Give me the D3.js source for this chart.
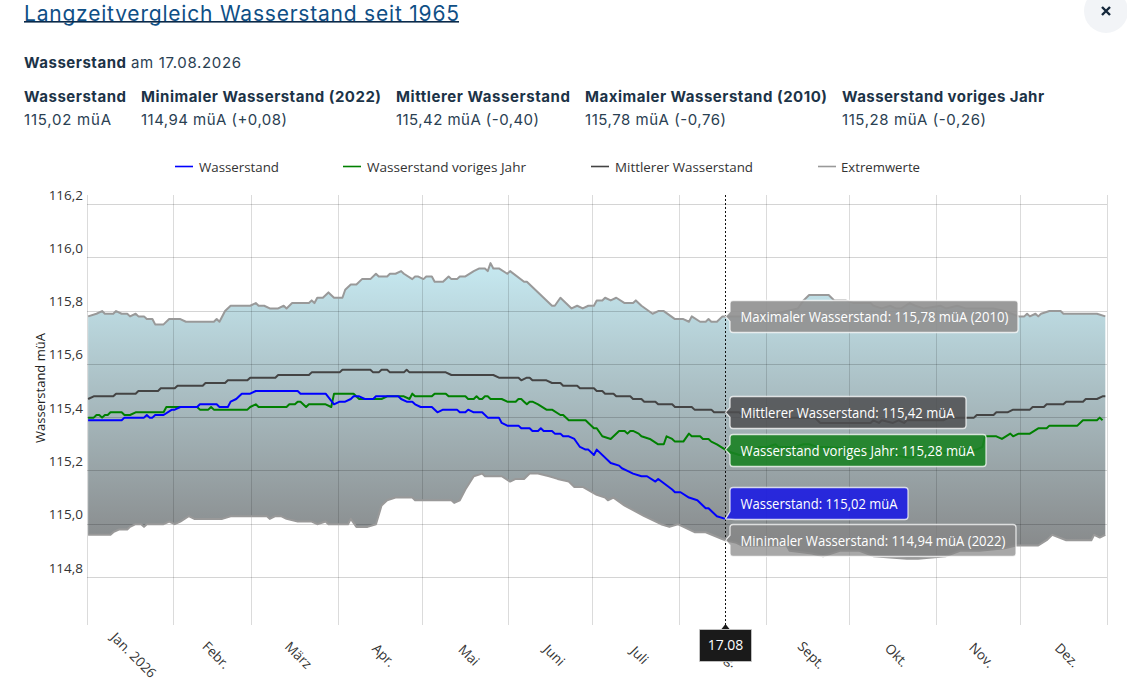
<!DOCTYPE html>
<html lang="de"><head><meta charset="utf-8"><title>Langzeitvergleich Wasserstand</title>
<script src="https://cdn.jsdelivr.net/npm/d3@7"></script>
<style>html,body{margin:0;padding:0;background:#fff;overflow:hidden}svg{display:block}</style>
</head><body><svg id="c" width="1127" height="694"></svg>
<script>
const monthNames=["Jan. 2026","Febr.","März","Apr.","Mai","Juni","Juli","Aug.","Sept.","Okt.","Nov.","Dez."];
const yTicks=[114.8,115.0,115.2,115.4,115.6,115.8,116.0,116.2];
const legendItems=["Wasserstand","Wasserstand voriges Jahr","Mittlerer Wasserstand","Extremwerte"];

const levelDays=[0,12,13,20,21,22,23,24,27,30,31,33,39,40,46,47,50,51,53,55,58,60,75,76,85,88,90,92,94,95,97,99,102,103,111,112,114,116,117,119,123,125,127,132,133,135,136,138,141,143,147,148,150,154,155,158,159,161,162,163,166,167,169,170,172,174,176,178,179,181,182,187,190,191,193,195,198,200,203,204,209,210,212,215,218,221,222,225,228];
const levelVals=[115.39,115.39,115.40,115.40,115.41,115.40,115.40,115.41,115.41,115.43,115.43,115.44,115.44,115.45,115.45,115.44,115.44,115.46,115.47,115.49,115.49,115.50,115.50,115.49,115.49,115.45,115.46,115.46,115.47,115.48,115.48,115.47,115.47,115.48,115.48,115.47,115.46,115.46,115.45,115.44,115.44,115.42,115.43,115.43,115.42,115.42,115.43,115.42,115.42,115.40,115.40,115.38,115.37,115.37,115.36,115.36,115.35,115.35,115.36,115.35,115.35,115.34,115.34,115.33,115.33,115.32,115.29,115.28,115.28,115.26,115.28,115.23,115.22,115.21,115.20,115.19,115.18,115.18,115.16,115.17,115.13,115.12,115.12,115.10,115.09,115.06,115.06,115.03,115.02];

const lastYearDays=[0,2,3,4,5,6,7,8,12,13,15,17,27,28,39,40,43,44,45,57,58,60,61,71,72,74,75,76,78,79,85,87,88,95,97,105,107,113,115,116,117,123,124,128,129,135,136,138,139,140,141,142,143,144,148,150,153,154,155,156,157,158,159,161,164,166,169,170,172,178,181,182,184,187,190,192,193,194,195,197,198,201,204,206,207,209,210,213,215,216,219,220,222,223,225,228,230,233,236,238,240,243,246,247,253,256,258,261,264,278,284,288,293,295,296,310,318,320,321,325,327,330,331,333,337,340,343,344,354,356,361,362,363];
const lastYearVals=[115.40,115.40,115.41,115.41,115.40,115.41,115.41,115.42,115.42,115.41,115.41,115.42,115.42,115.44,115.44,115.43,115.43,115.44,115.43,115.43,115.44,115.45,115.44,115.44,115.45,115.45,115.46,115.46,115.44,115.45,115.45,115.44,115.49,115.49,115.47,115.47,115.48,115.48,115.47,115.49,115.48,115.48,115.49,115.49,115.48,115.48,115.47,115.47,115.48,115.47,115.47,115.48,115.48,115.47,115.47,115.46,115.46,115.47,115.47,115.46,115.45,115.46,115.46,115.45,115.43,115.43,115.41,115.41,115.39,115.39,115.36,115.36,115.33,115.32,115.35,115.35,115.34,115.35,115.35,115.34,115.33,115.32,115.30,115.30,115.33,115.32,115.31,115.31,115.34,115.33,115.33,115.32,115.32,115.31,115.30,115.28,115.27,115.26,115.26,115.27,115.29,115.29,115.30,115.29,115.29,115.30,115.30,115.29,115.29,115.28,115.26,115.26,115.25,115.25,115.26,115.27,115.28,115.29,115.33,115.33,115.32,115.34,115.33,115.34,115.34,115.36,115.36,115.37,115.37,115.39,115.39,115.40,115.39];

const meanDays=[0,2,9,10,17,18,25,26,31,32,41,42,49,50,57,58,67,68,79,80,90,91,101,102,104,105,107,108,113,114,115,128,130,145,147,154,155,157,158,159,164,166,169,170,175,176,181,182,184,185,188,189,194,195,198,199,203,204,209,210,216,217,223,224,233,234,240,260,262,280,281,283,284,288,290,292,293,306,308,317,318,324,325,329,331,337,338,342,343,349,350,356,357,361,363,364];
const meanVals=[115.47,115.48,115.48,115.49,115.49,115.50,115.50,115.51,115.51,115.52,115.52,115.53,115.53,115.54,115.54,115.55,115.55,115.56,115.56,115.57,115.57,115.58,115.58,115.57,115.57,115.58,115.58,115.57,115.57,115.58,115.57,115.57,115.56,115.56,115.55,115.55,115.54,115.55,115.55,115.54,115.54,115.53,115.53,115.52,115.52,115.51,115.51,115.50,115.50,115.49,115.49,115.48,115.48,115.47,115.47,115.46,115.46,115.45,115.45,115.44,115.44,115.43,115.43,115.42,115.42,115.41,115.40,115.40,115.38,115.38,115.39,115.38,115.39,115.38,115.39,115.38,115.39,115.39,115.40,115.40,115.41,115.41,115.42,115.42,115.43,115.43,115.44,115.44,115.45,115.45,115.46,115.46,115.47,115.47,115.48,115.48];

const maxDays=[0,3,5,6,9,10,12,14,15,17,18,20,21,23,24,27,29,33,35,45,46,47,49,51,58,60,61,63,65,68,70,71,73,79,80,81,82,84,86,88,91,92,94,96,98,101,103,104,107,108,110,112,113,116,117,118,120,121,123,124,127,129,130,132,133,135,138,140,142,143,144,145,147,150,151,156,157,166,167,169,173,175,177,179,181,182,184,185,187,189,192,195,196,198,202,204,206,210,213,215,216,219,221,222,223,225,227,228,231,236,240,246,250,254,256,258,265,267,271,274,280,281,284,287,289,291,294,296,299,305,307,311,314,324,328,333,335,336,337,339,340,341,344,348,349,361,364];
const maxVals=[115.78,115.79,115.80,115.79,115.79,115.80,115.79,115.79,115.78,115.79,115.78,115.78,115.77,115.77,115.75,115.75,115.77,115.77,115.76,115.76,115.77,115.76,115.80,115.82,115.82,115.83,115.82,115.82,115.81,115.81,115.82,115.81,115.83,115.83,115.84,115.83,115.85,115.85,115.87,115.85,115.85,115.88,115.90,115.90,115.92,115.92,115.94,115.93,115.93,115.94,115.94,115.95,115.94,115.92,115.93,115.93,115.92,115.93,115.93,115.91,115.91,115.93,115.92,115.92,115.93,115.93,115.95,115.96,115.96,115.95,115.98,115.96,115.96,115.94,115.95,115.91,115.91,115.82,115.82,115.85,115.81,115.82,115.81,115.82,115.82,115.84,115.84,115.85,115.84,115.85,115.83,115.83,115.84,115.82,115.79,115.80,115.80,115.77,115.77,115.76,115.78,115.76,115.76,115.77,115.76,115.76,115.78,115.78,115.78,115.78,115.79,115.79,115.80,115.81,115.84,115.86,115.86,115.84,115.84,115.83,115.83,115.82,115.81,115.82,115.81,115.81,115.83,115.82,115.81,115.82,115.81,115.82,115.81,115.81,115.80,115.78,115.78,115.79,115.78,115.79,115.78,115.79,115.80,115.80,115.79,115.79,115.78];

const minDays=[0,8,9,11,14,15,17,19,20,21,27,29,31,33,36,38,48,51,64,65,67,69,71,75,80,82,85,86,93,94,96,100,103,105,107,110,116,117,130,131,133,135,138,141,142,148,151,153,156,158,161,165,168,172,174,177,182,185,186,188,192,199,205,208,211,217,221,228,232,234,250,251,259,263,269,276,281,293,297,307,312,319,328,332,340,343,345,350,359,360,362,364];
const minVals=[114.96,114.96,114.97,114.98,114.98,114.99,115.00,115.00,114.99,115.00,115.00,115.01,115.00,115.01,115.03,115.02,115.02,115.03,115.03,115.02,115.03,115.03,115.02,115.01,115.01,115.00,115.01,115.00,115.00,115.02,114.99,114.99,115.00,115.07,115.09,115.10,115.10,115.09,115.09,115.08,115.09,115.13,115.18,115.19,115.18,115.18,115.16,115.17,115.17,115.19,115.19,115.18,115.17,115.16,115.14,115.14,115.11,115.10,115.09,115.10,115.07,115.03,115.00,114.99,115.00,114.97,114.97,114.94,114.93,114.92,114.92,114.90,114.89,114.88,114.90,114.90,114.88,114.87,114.87,114.88,114.90,114.90,114.91,114.92,114.92,114.94,114.96,114.94,114.94,114.96,114.95,114.96];

const selectedDay=228;
const svg=d3.select("#c");
const start=Date.UTC(2026,0,1);
const toDate=d=>new Date(start+(d+.4)*864e5);
const x=d3.scaleUtc().domain([new Date(start),new Date(Date.UTC(2027,0,1))]).range([87,1107]);
const y=d3.scaleLinear().domain([114.8,116.2]).range([577.5,204.5]);
const pts=(ds,vs)=>ds.map((d,i)=>[x(toDate(d)),y(vs[i])]);
const line=d3.line();
const chartFont="'Open Sans',sans-serif", headFont="Inter,sans-serif";
const PT=195,PB=625;

/* header */
const head="#1c3347";
svg.append("text").attr("x",24).attr("y",20.5).attr("font-family",headFont).attr("font-size",21).attr("fill","#0f4f86")
 .attr("textLength",435).text("Langzeitvergleich Wasserstand seit 1965");
svg.append("rect").attr("x",24).attr("y",21).attr("width",435).attr("height",1.6).attr("fill","#0b2a4a");
svg.append("circle").attr("cx",1106).attr("cy",11).attr("r",22).attr("fill","#f2f4f7");
svg.append("path").attr("d","M1102 7L1110 15M1110 7L1102 15").attr("stroke","#14263a").attr("stroke-width",2.4);
function ht(t,xx,yy,w,b){svg.append("text").attr("x",xx).attr("y",yy).attr("font-family",headFont).attr("font-size",15)
 .attr("font-weight",b?700:400).attr("fill",b?head:"#2a4052").attr("textLength",w).text(t);}
ht("Wasserstand",24,68,102,true);ht("am 17.08.2026",131,68,110,false);
[["Wasserstand","115,02 müA",24,102,87],["Minimaler Wasserstand (2022)","114,94 müA (+0,08)",141,240,146],
 ["Mittlerer Wasserstand","115,42 müA (-0,40)",396,174,143],["Maximaler Wasserstand (2010)","115,78 müA (-0,76)",585,242,141],
 ["Wasserstand voriges Jahr","115,28 müA (-0,26)",842,202,144]].forEach(r=>{ht(r[0],r[2],102,r[3],true);ht(r[1],r[2],125,r[4],false);});

/* legend */
const legendColors=["#0000ff","#008000","#444444","#999999"],legendX=[175,343,591,818],legendW=[80,159,138,79];
legendItems.forEach((t,i)=>{
 svg.append("line").attr("x1",legendX[i]).attr("x2",legendX[i]+18).attr("y1",166.5).attr("y2",166.5).attr("stroke",legendColors[i]).attr("stroke-width",1.6);
 svg.append("text").attr("x",legendX[i]+24-(i===3?1:0)).attr("y",172).attr("font-family",chartFont).attr("font-size",13.5).attr("fill","#333")
  .attr("textLength",legendW[i]).attr("lengthAdjust","spacingAndGlyphs").text(t);
});

/* area */
const defs=svg.append("defs");
const g=defs.append("linearGradient").attr("id","ar").attr("gradientUnits","userSpaceOnUse")
 .attr("x1",0).attr("x2",0).attr("y1",y(115.98)).attr("y2",y(114.87));
g.append("stop").attr("offset",0).attr("stop-color","#c6e9f1");
g.append("stop").attr("offset",1).attr("stop-color","#858687");
const maxP=pts(maxDays,maxVals),minP=pts(minDays,minVals);
svg.append("path").attr("d",line(maxP.concat(minP.slice().reverse()))+"Z").attr("fill","url(#ar)");

/* grid above the translucent band */
const grid=svg.append("g").attr("stroke","#000").attr("stroke-opacity",.17).attr("stroke-width",1);
yTicks.forEach(v=>grid.append("line").attr("x1",87).attr("x2",1107).attr("y1",Math.floor(y(v))+.5).attr("y2",Math.floor(y(v))+.5));
const monthStarts=d3.range(0,13).map(m=>new Date(Date.UTC(2026,m,1)));
monthStarts.forEach(d=>grid.append("line").attr("x1",Math.floor(x(d))+.5).attr("x2",Math.floor(x(d))+.5).attr("y1",PT).attr("y2",PB).attr("stroke-opacity",.14));

/* tick labels */
yTicks.forEach(v=>svg.append("text").attr("x",83).attr("y",y(v)-5).attr("text-anchor","end").attr("font-family",chartFont)
 .attr("font-size",13.5).attr("fill","#333").text(d3.format(".1f")(v).replace(".",",")));
monthNames.forEach((t,m)=>{const mx=(x(monthStarts[m])+x(monthStarts[m+1]))/2+3.5;
 svg.append("text").attr("transform",`translate(${mx},655) rotate(45)`).attr("text-anchor","middle").attr("dominant-baseline","central")
 .attr("font-family",chartFont).attr("font-size",13.5).attr("fill","#333").text(t);});
svg.append("text").attr("transform","translate(44.5,388) rotate(-90)").attr("text-anchor","middle").attr("font-family",chartFont)
 .attr("font-size",13).attr("fill","#222").text("Wasserstand müA");

/* lines */
[[maxP,"#999999"],[minP,"#999999"],[pts(meanDays,meanVals),"#444444"],[pts(lastYearDays,lastYearVals),"#008000"],[pts(levelDays,levelVals),"#0000ff"]]
.forEach(s=>svg.append("path").attr("d",line(s[0])).attr("fill","none").attr("stroke",s[1]).attr("stroke-width",2).attr("stroke-linejoin","round"));

/* crosshair */
const sx=Math.floor(x(toDate(selectedDay)))+.5;
svg.append("line").attr("x1",sx).attr("x2",sx).attr("y1",PT).attr("y2",PB).attr("stroke","#111").attr("stroke-width",1).attr("stroke-dasharray","2,2");
svg.append("path").attr("d",`M${sx-4} 629L${sx} 624L${sx+4} 629Z`).attr("fill","#1a1a1a");
svg.append("rect").attr("x",sx-26).attr("y",629.5).attr("width",52).attr("height",32).attr("fill","#1a1a1a").attr("stroke","#ccc").attr("stroke-width",.8);
svg.append("text").attr("x",sx).attr("y",650).attr("text-anchor","middle").attr("font-family",chartFont).attr("font-size",14).attr("fill","#fff").text("17.08");

/* tooltips */
const tips=[
 {t:"Maximaler Wasserstand: 115,78 müA (2010)",v:115.78,w:288,tw:268,c:"rgba(145,145,145,.92)",top:-16},
 {t:"Mittlerer Wasserstand: 115,42 müA",v:115.42,w:236,tw:214,c:"rgba(78,78,80,.85)",top:-16},
 {t:"Wasserstand voriges Jahr: 115,28 müA",v:115.28,w:256,tw:234,c:"rgba(25,130,35,.9)",top:-16},
 {t:"Wasserstand: 115,02 müA",v:115.02,w:178,tw:157,c:"rgba(30,30,225,.92)",top:-32},
 {t:"Minimaler Wasserstand: 114,94 müA (2022)",v:114.94,w:286,tw:265,c:"rgba(135,135,135,.72)",top:-16}];
tips.forEach(d=>{
 const py=y(d.v),b=Math.round(py+d.top)+.5,l=sx+4.5,r=l+d.w,h=32,rd=3;
 let p;
 if(d.top===-16){p=`M${l+rd} ${b}H${r-rd}Q${r} ${b} ${r} ${b+rd}V${b+h-rd}Q${r} ${b+h} ${r-rd} ${b+h}H${l+rd}Q${l} ${b+h} ${l} ${b+h-rd}V${py+5}L${sx} ${py}L${l} ${py-5}V${b+rd}Q${l} ${b} ${l+rd} ${b}Z`;}
 else{p=`M${l+rd} ${b}H${r-rd}Q${r} ${b} ${r} ${b+rd}V${b+h-rd}Q${r} ${b+h} ${r-rd} ${b+h}H${l+5}L${sx} ${py}L${l} ${b+h-8}V${b+rd}Q${l} ${b} ${l+rd} ${b}Z`;}
 svg.append("path").attr("d",p).attr("fill",d.c).attr("stroke","rgba(255,255,255,.75)").attr("stroke-width",1.3);
 svg.append("text").attr("x",l+10.5).attr("y",b+21).attr("font-family",chartFont).attr("font-size",14).attr("fill","#fff")
  .attr("textLength",d.tw).attr("lengthAdjust","spacingAndGlyphs").text(d.t);
});
</script></body></html>
